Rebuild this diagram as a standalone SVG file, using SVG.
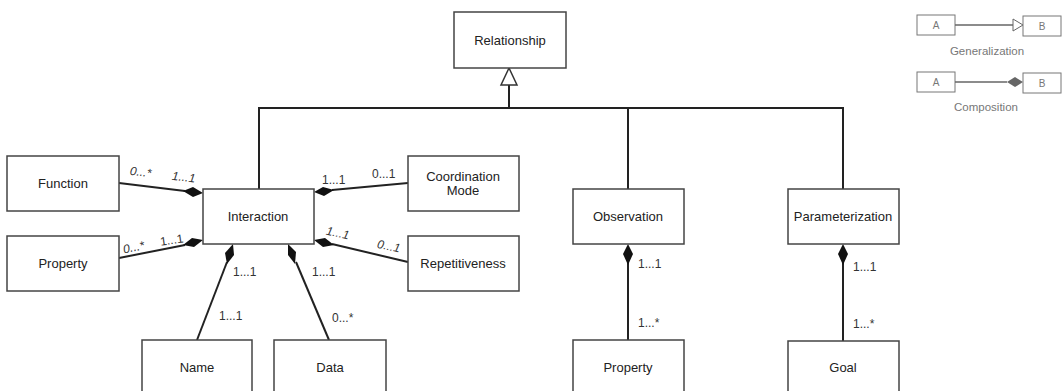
<svg xmlns="http://www.w3.org/2000/svg" width="1063" height="391" viewBox="0 0 1063 391">
  <defs>
    <style>
      .box { fill: #fff; stroke: #444; stroke-width: 1.5; }
      .lbl { font-family: "Liberation Sans", Arial, sans-serif; font-size: 13px; fill: #222; text-anchor: middle; }
      .mul { font-family: "Liberation Sans", Arial, sans-serif; font-size: 12px; fill: #333; }
      .it { font-style: italic; }
      .edge { stroke: #222; stroke-width: 2; fill: none; }
      .dia { fill: #111; stroke: none; }
      .lbox { fill: #fff; stroke: #777; stroke-width: 1; }
      .ltxt { font-family: "Liberation Sans", Arial, sans-serif; font-size: 11.5px; fill: #777; text-anchor: middle; }
    </style>
  </defs>
  <rect width="1063" height="391" fill="#fff"/>

  <!-- connectors -->
  <g id="connectors">
    <!-- generalization tree -->
    <polyline class="edge" points="259,189 259,108 843,108 843,189"/>
    <line class="edge" x1="628" y1="108" x2="628" y2="189"/>
    <line class="edge" x1="509" y1="85" x2="509" y2="108"/>
    <polygon points="509,68 501,85 517,85" fill="#fff" stroke="#333" stroke-width="1.5"/>

    <!-- Interaction compositions -->
    <line class="edge" x1="119" y1="183" x2="185" y2="191"/>
    <polygon class="dia" points="203,193 193,197 183,191 193,187"/>
    <line class="edge" x1="119" y1="258" x2="185" y2="245"/>
    <polygon class="dia" points="203,240 194,247 183,245 192,238"/>
    <line class="edge" x1="408" y1="183" x2="332" y2="190"/>
    <polygon class="dia" points="314,192 323,187 334,190 324,196"/>
    <line class="edge" x1="408" y1="262" x2="332" y2="244"/>
    <polygon class="dia" points="314,240 325,238 334,245 323,247"/>
    <line class="edge" x1="197" y1="340" x2="227" y2="262"/>
    <polygon class="dia" points="233,244 234,255 227,264 225,253"/>
    <line class="edge" x1="329" y1="340" x2="296" y2="262"/>
    <polygon class="dia" points="288,244 296,252 295,264 288,255"/>

    <!-- Observation / Parameterization compositions -->
    <line class="edge" x1="628" y1="262" x2="628" y2="340"/>
    <polygon class="dia" points="628,244 633,254 628,265 623,254"/>
    <line class="edge" x1="843" y1="262" x2="843" y2="341"/>
    <polygon class="dia" points="843,244 848,254 843,265 838,254"/>

    <!-- multiplicities -->
    <text class="mul it" x="130" y="176" transform="rotate(7 141 172)">0...*</text>
    <text class="mul it" x="172" y="181" transform="rotate(7 183 177)">1...1</text>
    <text class="mul it" x="123" y="251" transform="rotate(-12 135 247)">0...*</text>
    <text class="mul" x="160" y="244" transform="rotate(-8 172 240)">1...1</text>
    <text class="mul" x="322" y="184">1...1</text>
    <text class="mul" x="372" y="178">0...1</text>
    <text class="mul it" x="326" y="237" transform="rotate(12 338 233)">1...1</text>
    <text class="mul it" x="377" y="250" transform="rotate(12 388 246)">0...1</text>
    <text class="mul" x="233" y="276">1...1</text>
    <text class="mul" x="219" y="320">1...1</text>
    <text class="mul" x="312" y="276">1...1</text>
    <text class="mul" x="332" y="322">0...*</text>
    <text class="mul" x="638" y="268">1...1</text>
    <text class="mul" x="638" y="327">1...*</text>
    <text class="mul" x="853" y="271">1...1</text>
    <text class="mul" x="853" y="328">1...*</text>
  </g>

  <!-- nodes -->
  <g id="relationship"><rect class="box" x="454" y="12" width="112" height="56"/><text class="lbl" x="510" y="45">Relationship</text></g>
  <g id="function"><rect class="box" x="7" y="156" width="112" height="55"/><text class="lbl" x="63" y="188">Function</text></g>
  <g id="property-left"><rect class="box" x="7" y="236" width="112" height="55"/><text class="lbl" x="63" y="268">Property</text></g>
  <g id="interaction"><rect class="box" x="203" y="189" width="111" height="55"/><text class="lbl" x="258" y="221">Interaction</text></g>
  <g id="coordination-mode"><rect class="box" x="408" y="156" width="111" height="55"/><text class="lbl" x="463" y="181">Coordination</text><text class="lbl" x="463" y="195">Mode</text></g>
  <g id="repetitiveness"><rect class="box" x="408" y="236" width="111" height="55"/><text class="lbl" x="463" y="268">Repetitiveness</text></g>
  <g id="name"><rect class="box" x="142" y="340" width="110" height="60"/><text class="lbl" x="197" y="372">Name</text></g>
  <g id="data"><rect class="box" x="274" y="340" width="112" height="60"/><text class="lbl" x="330" y="372">Data</text></g>
  <g id="observation"><rect class="box" x="573" y="189" width="111" height="55"/><text class="lbl" x="628" y="221">Observation</text></g>
  <g id="property-bottom"><rect class="box" x="573" y="340" width="111" height="60"/><text class="lbl" x="628" y="372">Property</text></g>
  <g id="parameterization"><rect class="box" x="788" y="189" width="111" height="55"/><text class="lbl" x="843" y="221">Parameterization</text></g>
  <g id="goal"><rect class="box" x="788" y="341" width="111" height="60"/><text class="lbl" x="843" y="372">Goal</text></g>

  <!-- legend -->
  <g id="legend">
    <rect class="lbox" x="917" y="15" width="38" height="20"/>
    <text class="ltxt" x="936" y="29" style="font-size:10px">A</text>
    <line x1="955" y1="25" x2="1013" y2="25" stroke="#666" stroke-width="1.5"/>
    <polygon points="1023,25 1013,19 1013,31" fill="#fff" stroke="#666" stroke-width="1"/>
    <rect class="lbox" x="1023" y="16" width="38" height="20"/>
    <text class="ltxt" x="1042" y="30" style="font-size:10px">B</text>
    <text class="ltxt" x="987" y="55">Generalization</text>

    <rect class="lbox" x="917" y="72" width="38" height="20"/>
    <text class="ltxt" x="936" y="86" style="font-size:10px">A</text>
    <line x1="955" y1="82" x2="1007" y2="82" stroke="#666" stroke-width="1.5"/>
    <polygon points="1023,82 1015,87 1007,82 1015,77" fill="#666"/>
    <rect class="lbox" x="1023" y="73" width="38" height="20"/>
    <text class="ltxt" x="1042" y="87" style="font-size:10px">B</text>
    <text class="ltxt" x="986" y="111">Composition</text>
  </g>
</svg>
